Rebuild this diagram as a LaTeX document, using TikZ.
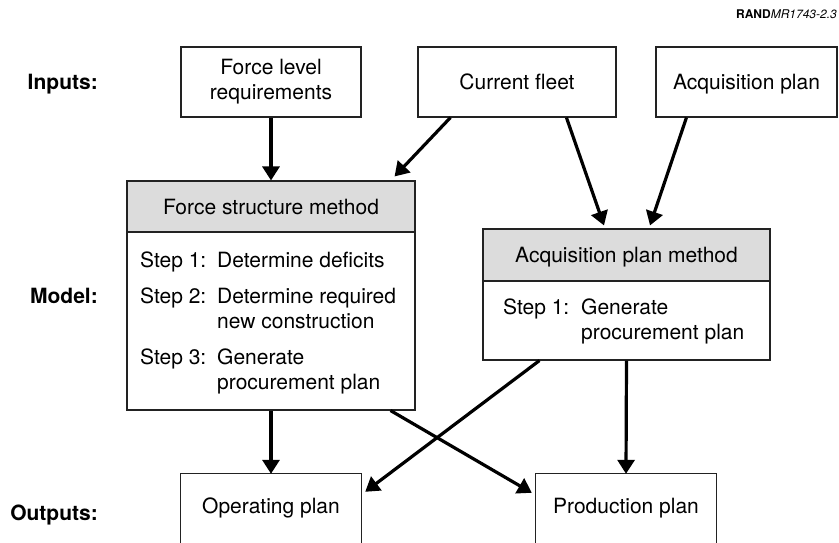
\documentclass[tikz,border=0pt]{standalone}
\usepackage{fontspec}
\setmainfont{TeX Gyre Heros}
\usetikzlibrary{arrows.meta,calc}
\definecolor{hdr}{HTML}{DCDCDC}
\definecolor{edge}{HTML}{222222}
\tikzset{
  every node/.style={font=\fontsize{21}{25}\selectfont},
  boxline/.style={draw=edge, line width=1.1pt},
  onel/.style={text height=15pt, text depth=0pt},
  inbox/.style={boxline, minimum height=70pt, inner sep=0pt, align=center},
  hdrbox/.style={boxline, fill=hdr, inner sep=0pt, onel},
  bodybox/.style={boxline, inner sep=0pt},
  outbox/.style={minimum width=180pt, minimum height=64pt, inner sep=0pt, onel},
  rowlabel/.style={anchor=east, inner sep=0pt, onel, font=\fontsize{21}{25}\selectfont\bfseries},
  stepstext/.style={anchor=base west, inner sep=0pt},
  flow/.style={line width=3.2pt, -{Triangle[length=14pt,width=17pt]}}
}
\begin{document}
\begin{tikzpicture}[x=1pt,y=-1pt]
\useasboundingbox (0,0) rectangle (839,542);

% top-right code
\node[anchor=base east, inner sep=0pt, font=\fontsize{12}{14}\selectfont] (code) at (837,18) {\textbf{RAND}\textit{MR1743-2.3}};

% row labels
\node[rowlabel] (linputs) at (98,82) {Inputs:};
\node[rowlabel] (lmodel) at (98,296) {Model:};
\node[rowlabel] (loutputs) at (98,513) {Outputs:};

% inputs
\node[inbox, minimum width=180pt] (flr) at (271,82) {Force level\\requirements};
\node[inbox, onel, minimum width=198pt] (cf) at (517,82) {Current fleet};
\node[inbox, onel, minimum width=181pt] (ap) at (746.5,82) {Acquisition plan};

% force structure method
\node[hdrbox, minimum width=288pt, minimum height=51pt] (fsmh) at (271,206.5) {Force structure method};
\node[bodybox, minimum width=288pt, minimum height=178pt] (fsmb) at (271,321) {};
\node[stepstext] (fsmt) at (140,267.5) {%
\begin{tabular}[t]{@{}l@{}l@{}}
\makebox[77pt][l]{Step 1:} & Determine deficits\\[11pt]
Step 2: & Determine required\\
 & new construction\\[11pt]
Step 3: & Generate\\
 & procurement plan
\end{tabular}};

% acquisition plan method
\node[hdrbox, minimum width=287pt, minimum height=52pt] (apmh) at (626.5,255) {Acquisition plan method};
\node[bodybox, minimum width=287pt, minimum height=79pt] (apmb) at (626.5,320.5) {};
\node[stepstext] (apmt) at (503,314.5) {%
\begin{tabular}[t]{@{}l@{}l@{}}
\makebox[78pt][l]{Step 1:} & Generate\\
 & procurement plan
\end{tabular}};

% outputs
\node[outbox] (op) at (271,506) {Operating plan};
\node[outbox] (pp) at (626,506) {Production plan};
\draw[boxline] ([yshift=-20pt]op.south west) |- (op.north east) -- ([yshift=-20pt]op.south east);
\draw[boxline] ([yshift=-20pt]pp.south west) |- (pp.north east) -- ([yshift=-20pt]pp.south east);

% connectors
\draw[flow] (flr.south) -- (fsmh.north);
\draw[flow] ([xshift=33pt]cf.south west) -- ([xshift=-21pt,yshift=4pt]fsmh.north east);
\draw[flow] ([xshift=149pt]cf.south west) -- ([xshift=-22.5pt,yshift=3pt]apmh.north);
\draw[flow] ([xshift=31pt]ap.south west) -- ([xshift=23.5pt,yshift=3pt]apmh.north);
\draw[flow] (fsmb.south) -- (op.north);
\draw[flow] ([xshift=-25pt]fsmb.south east) -- ([xshift=-4pt,yshift=-19pt]pp.north west);
\draw[flow] ([xshift=57pt]apmb.south west) -- ([xshift=4pt,yshift=-18pt]op.north east);
\draw[flow] (apmb.south) -- (pp.north);
\end{tikzpicture}
\end{document}
